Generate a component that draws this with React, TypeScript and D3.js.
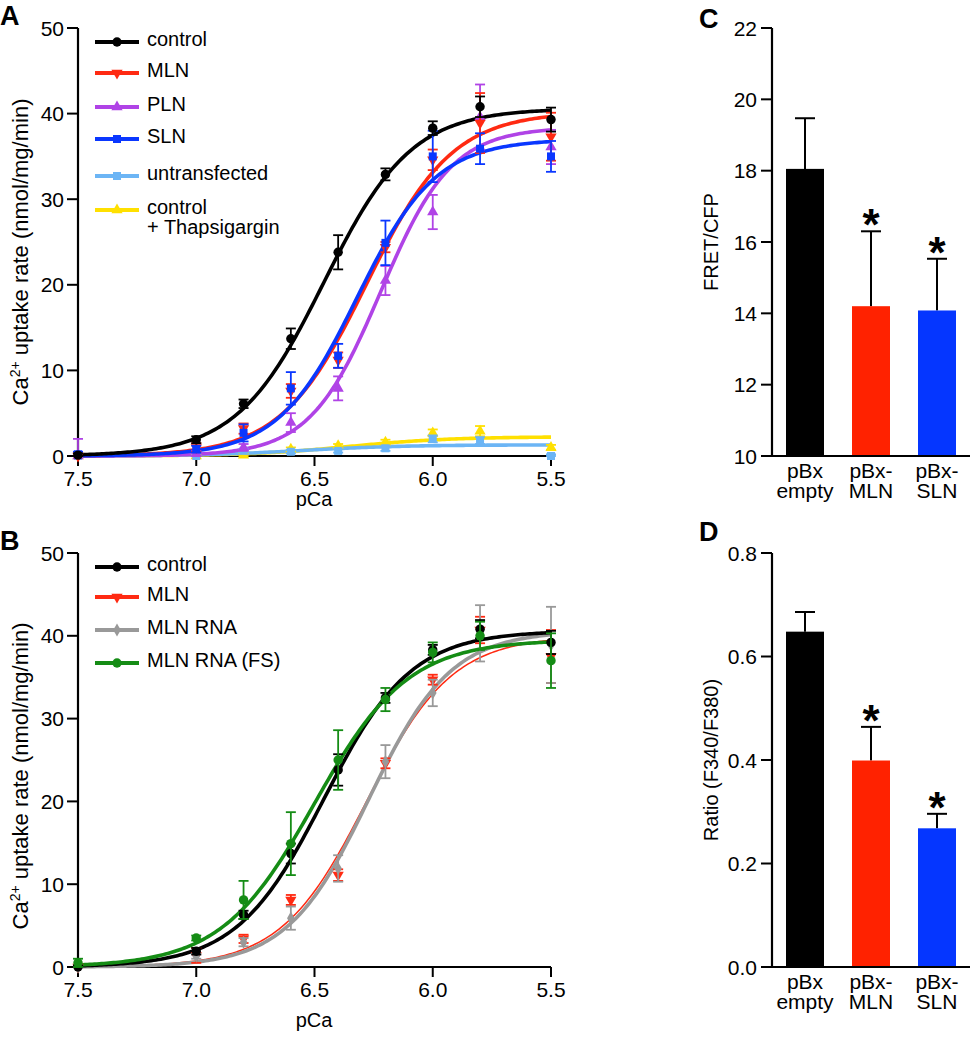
import React from "react";
import * as d3 from "d3";

// ---- shared x values (pCa) ----
const pCa = [7.5, 7.0, 6.8, 6.6, 6.4, 6.2, 6.0, 5.8, 5.5];
const pCaTicks = [7.5, 7.0, 6.5, 6.0, 5.5];
const uptakeTicks = [0, 10, 20, 30, 40, 50];

// ---- panel A ----
const controlA = [0.1, 1.9, 6.1, 13.7, 23.8, 32.9, 38.3, 40.8, 39.3];
const controlAErr = [0.2, 0.4, 0.5, 1.2, 2.0, 0.7, 0.8, 1.2, 1.4];
const mlnA = [0.0, 1.0, 3.2, 7.6, 11.2, 24.4, 34.6, 38.9, 37.3];
const mlnAErr = [0.3, 0.5, 0.6, 0.8, 0.9, 0.6, 1.2, 3.5, 2.8];
const plnA = [0.0, 0.3, 1.0, 3.9, 7.9, 20.5, 28.5, 39.6, 36.1];
const plnAErr = [2.0, 0.3, 0.4, 1.1, 1.4, 1.7, 2.0, 3.8, 2.0];
const slnA = [0.2, 0.8, 2.7, 7.9, 11.7, 24.9, 35.0, 35.9, 35.0];
const slnAErr = [0.3, 0.4, 1.0, 1.9, 1.4, 2.6, 3.0, 1.8, 1.8];
const untransA = [0.0, 0.0, 0.6, 0.5, 0.6, 0.9, 2.0, 1.8, 0.0];
const untransAErr = [0.1, 0.1, 0.2, 0.2, 0.2, 0.3, 0.4, 0.4, 0.2];
const thapsA = [0.0, 0.0, 0.1, 0.8, 1.2, 1.6, 2.7, 2.9, 1.0];
const thapsAErr = [0.1, 0.1, 0.2, 0.2, 0.2, 0.3, 0.4, 0.6, 0.3];

// Hill fits: [top, pCa50, nH]
const controlFit = [40.6, 6.46, 2.35];
const mlnFit = [40.2, 6.28, 2.4];
const plnFit = [38.4, 6.22, 2.9];
const slnFit = [37.0, 6.32, 2.6];
const untransFit = [1.3, 6.55, 2.0];
const thapsFit = [2.25, 6.35, 2.0];

// ---- panel B ----
const controlB = [0.0, 1.9, 6.3, 13.7, 23.8, 32.5, 38.3, 40.8, 39.2];
const controlBErr = [0.2, 0.4, 0.5, 1.2, 1.9, 0.6, 0.6, 1.1, 1.4];
const mlnB = [0.0, 1.4, 3.4, 8.1, 11.1, 24.6, 34.7, 40.7, 37.5];
const mlnBErr = [0.2, 0.9, 0.5, 0.6, 0.7, 0.6, 0.6, 1.6, 3.2];
const rnaB = [0.0, 1.3, 3.0, 5.9, 11.9, 24.8, 33.1, 40.3, 38.9];
const rnaBErr = [0.2, 0.3, 0.5, 1.4, 1.6, 2.0, 1.6, 3.4, 4.6];
const fsB = [0.5, 3.5, 8.1, 14.9, 25.0, 32.3, 38.0, 40.0, 37.0];
const fsBErr = [0.5, 0.3, 2.3, 3.8, 3.6, 1.4, 1.2, 1.7, 3.3];

const controlBFit = [40.6, 6.46, 2.35];
const mlnBFit = [40.0, 6.28, 2.4];
const rnaFit = [40.6, 6.27, 2.5];
const fsFit = [39.5, 6.5, 2.2];

// ---- panels C and D ----
const barNames = [["pBx", "empty"], ["pBx-", "MLN"], ["pBx-", "SLN"]];
const barColors = ["#000000", "#ff2200", "#0536ff"];
const barStar = [false, true, true];
const fretMean = [18.05, 14.2, 14.08];
const fretErr = [1.42, 2.1, 1.45];
const fretTicks = [10, 12, 14, 16, 18, 20, 22];
const ratioMean = [0.648, 0.399, 0.268];
const ratioErr = [0.038, 0.065, 0.028];
const ratioTicks = [0, 0.2, 0.4, 0.6, 0.8];

const FONT = "'Liberation Sans', Arial, Helvetica, sans-serif";

type Series = {
  name: string[];
  color: string;
  shape: string;
  y: number[];
  err: number[];
  fit: number[];
  width?: number;
};

const seriesA: Series[] = [
  { name: ["control", "+ Thapsigargin"], color: "#ffe000", shape: "tri", y: thapsA, err: thapsAErr, fit: thapsFit },
  { name: ["untransfected"], color: "#6cb5f5", shape: "square", y: untransA, err: untransAErr, fit: untransFit },
  { name: ["PLN"], color: "#b043e6", shape: "tri", y: plnA, err: plnAErr, fit: plnFit },
  { name: ["MLN"], color: "#ff2a12", shape: "down", y: mlnA, err: mlnAErr, fit: mlnFit },
  { name: ["SLN"], color: "#0a37ff", shape: "square", y: slnA, err: slnAErr, fit: slnFit },
  { name: ["control"], color: "#000000", shape: "circle", y: controlA, err: controlAErr, fit: controlFit },
];
const legendAOrder = [5, 3, 2, 4, 1, 0];

const seriesB: Series[] = [
  { name: ["MLN"], color: "#ff2a12", shape: "down", y: mlnB, err: mlnBErr, fit: mlnBFit, width: 1.5 },
  { name: ["MLN RNA"], color: "#999999", shape: "diamond", y: rnaB, err: rnaBErr, fit: rnaFit },
  { name: ["control"], color: "#000000", shape: "circle", y: controlB, err: controlBErr, fit: controlBFit },
  { name: ["MLN RNA (FS)"], color: "#158c15", shape: "circle", y: fsB, err: fsBErr, fit: fsFit },
];
const legendBOrder = [2, 0, 1, 3];

const hill = (p: number, f: number[]) => f[0] / (1 + Math.pow(10, f[2] * (p - f[1])));

const symbolPath = (shape: string) => {
  if (shape === "circle") return d3.symbol(d3.symbolCircle, 70)()!;
  if (shape === "square") return d3.symbol(d3.symbolSquare, 64)()!;
  if (shape === "diamond") return d3.symbol(d3.symbolDiamond, 50)()!;
  return d3.symbol(d3.symbolTriangle, 55)()!;
};

const Marker = ({ x, y, shape, color }: { x: number; y: number; shape: string; color: string }) => (
  <path
    d={symbolPath(shape)}
    transform={`translate(${x},${y})${shape === "down" ? " rotate(180)" : ""}`}
    fill={color}
  />
);

const xScale = d3.scaleLinear().domain([7.5, 5.5]).range([78, 551]);
const curveX = d3.range(7.5, 5.499, -0.01);

function DosePanel({
  series,
  legendOrder,
  yTop,
  yBottom,
  legendRows,
  letter,
  letterY,
  xTitleY,
  yTitleY,
}: {
  series: Series[];
  legendOrder: number[];
  yTop: number;
  yBottom: number;
  legendRows: number[];
  letter: string;
  letterY: number;
  xTitleY: number;
  yTitleY: number;
}) {
  const y = d3.scaleLinear().domain([0, 50]).range([yBottom, yTop]);
  return (
    <g>
      <text x={0} y={letterY} fontSize={27} fontWeight="bold" fontFamily={FONT}>
        {letter}
      </text>
      {/* axes */}
      <line x1={78} x2={78} y1={yTop} y2={yBottom + 1} stroke="#000" strokeWidth={2.2} />
      <line x1={77} x2={551} y1={yBottom} y2={yBottom} stroke="#000" strokeWidth={2.2} />
      {uptakeTicks.map((t) => (
        <g key={t}>
          <line x1={67} x2={78} y1={y(t)} y2={y(t)} stroke="#000" strokeWidth={2} />
          <text x={64} y={y(t) + 7.5} textAnchor="end" fontSize={21} fontFamily={FONT}>
            {t}
          </text>
        </g>
      ))}
      {pCaTicks.map((t) => (
        <g key={t}>
          <line x1={xScale(t)} x2={xScale(t)} y1={yBottom} y2={yBottom + 10} stroke="#000" strokeWidth={2} />
          <text x={xScale(t)} y={yBottom + 30} textAnchor="middle" fontSize={21} fontFamily={FONT}>
            {t.toFixed(1)}
          </text>
        </g>
      ))}
      <text x={314} y={xTitleY} textAnchor="middle" fontSize={20} fontFamily={FONT}>
        pCa
      </text>
      <text
        transform={`translate(28,${yTitleY}) rotate(-90)`}
        textAnchor="middle"
        fontSize={22}
        fontFamily={FONT}
      >
        Ca<tspan dy={-8} fontSize={14}>2+</tspan>
        <tspan dy={8}> uptake rate (nmol/mg/min)</tspan>
      </text>
      {/* fitted curves */}
      {series.map((s, i) => (
        <path
          key={"c" + i}
          d={
            d3
              .line<number>()
              .x((p) => xScale(p))
              .y((p) => y(hill(p, s.fit)))(curveX)!
          }
          fill="none"
          stroke={s.color}
          strokeWidth={s.width ?? 3.6}
        />
      ))}
      {/* error bars and points */}
      {series.map((s, i) => (
        <g key={"p" + i}>
          {s.y.map((v, j) => {
            const cx = xScale(pCa[j]);
            const hi = y(v + s.err[j]);
            const lo = y(Math.max(0, v - s.err[j]));
            return (
              <g key={j}>
                <line x1={cx} x2={cx} y1={hi} y2={lo} stroke={s.color} strokeWidth={1.8} />
                <line x1={cx - 5} x2={cx + 5} y1={hi} y2={hi} stroke={s.color} strokeWidth={1.8} />
                <line x1={cx - 5} x2={cx + 5} y1={lo} y2={lo} stroke={s.color} strokeWidth={1.8} />
                <Marker x={cx} y={y(v)} shape={s.shape} color={s.color} />
              </g>
            );
          })}
        </g>
      ))}
      {/* legend */}
      {legendOrder.map((idx, k) => {
        const s = series[idx];
        const ly = legendRows[k];
        return (
          <g key={"l" + k}>
            <line x1={95} x2={139} y1={ly} y2={ly} stroke={s.color} strokeWidth={4} />
            <Marker x={117} y={ly} shape={s.shape} color={s.color} />
            {s.name.map((n, m) => (
              <text key={m} x={147} y={ly + 4 + m * 20} fontSize={20} fontFamily={FONT}>
                {n}
              </text>
            ))}
          </g>
        );
      })}
    </g>
  );
}

function BarPanel({
  mean,
  err,
  ticks,
  yDomain,
  yTop,
  yBottom,
  fmt,
  title,
  letter,
  letterY,
}: {
  mean: number[];
  err: number[];
  ticks: number[];
  yDomain: number[];
  yTop: number;
  yBottom: number;
  fmt: (v: number) => string;
  title: string;
  letter: string;
  letterY: number;
}) {
  const y = d3.scaleLinear().domain(yDomain).range([yBottom, yTop]);
  const x = d3.scalePoint<number>().domain([0, 1, 2]).range([772, 970]).padding(0.5);
  const bw = 38;
  return (
    <g>
      <text x={699} y={letterY} fontSize={27} fontWeight="bold" fontFamily={FONT}>
        {letter}
      </text>
      {mean.map((m, i) => {
        const cx = x(i)!;
        const top = y(m + err[i]);
        return (
          <g key={i}>
            <line x1={cx} x2={cx} y1={y(m)} y2={top} stroke="#000" strokeWidth={2} />
            <line x1={cx - 10} x2={cx + 10} y1={top} y2={top} stroke="#000" strokeWidth={2} />
            <rect x={cx - bw / 2} y={y(m)} width={bw} height={yBottom - y(m)} fill={barColors[i]} />
            {barStar[i] && (
              <text x={cx} y={top + 9} textAnchor="middle" fontSize={44} fontWeight="bold" fontFamily={FONT}>
                *
              </text>
            )}
            <text x={cx} y={yBottom + 22} textAnchor="middle" fontSize={21} fontFamily={FONT}>
              {barNames[i][0]}
            </text>
            <text x={cx} y={yBottom + 42} textAnchor="middle" fontSize={21} fontFamily={FONT}>
              {barNames[i][1]}
            </text>
          </g>
        );
      })}
      <line x1={772} x2={772} y1={yTop} y2={yBottom} stroke="#000" strokeWidth={2.2} />
      <line x1={771} x2={970} y1={yBottom} y2={yBottom} stroke="#000" strokeWidth={2.2} />
      {ticks.map((t) => (
        <g key={t}>
          <line x1={761} x2={772} y1={y(t)} y2={y(t)} stroke="#000" strokeWidth={2} />
          <text x={757} y={y(t) + 7.5} textAnchor="end" fontSize={21} fontFamily={FONT}>
            {fmt(t)}
          </text>
        </g>
      ))}
      <text
        transform={`translate(718,${(yTop + yBottom) / 2}) rotate(-90)`}
        textAnchor="middle"
        fontSize={20}
        fontFamily={FONT}
      >
        {title}
      </text>
    </g>
  );
}

export default function App() {
  return (
    <svg
      width={975}
      height={1050}
      style={{ position: "absolute", left: 0, top: 0, background: "#fff" }}
    >
      <DosePanel
        series={seriesA}
        legendOrder={legendAOrder}
        yTop={28}
        yBottom={456}
        legendRows={[42, 73, 107, 139, 176, 210]}
        letter="A"
        letterY={25}
        xTitleY={506}
        yTitleY={252}
      />
      <DosePanel
        series={seriesB}
        legendOrder={legendBOrder}
        yTop={553}
        yBottom={967}
        legendRows={[567, 597, 630, 663]}
        letter="B"
        letterY={550}
        xTitleY={1027}
        yTitleY={776}
      />
      <BarPanel
        mean={fretMean}
        err={fretErr}
        ticks={fretTicks}
        yDomain={[10, 22]}
        yTop={28}
        yBottom={456}
        fmt={(v) => String(v)}
        title="FRET/CFP"
        letter="C"
        letterY={28}
      />
      <BarPanel
        mean={ratioMean}
        err={ratioErr}
        ticks={ratioTicks}
        yDomain={[0, 0.8]}
        yTop={553}
        yBottom={967}
        fmt={(v) => v.toFixed(1)}
        title="Ratio (F340/F380)"
        letter="D"
        letterY={541}
      />
    </svg>
  );
}
